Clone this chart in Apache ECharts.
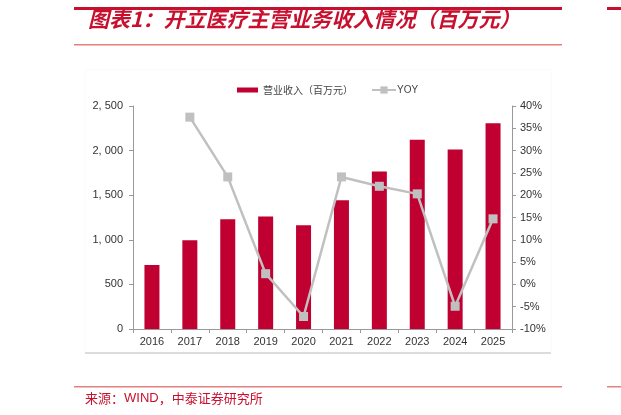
<!DOCTYPE html>
<html>
<head>
<meta charset="utf-8">
<script src="https://cdn.jsdelivr.net/npm/echarts@6/dist/echarts.min.js"></script>
<style>
  html, body { margin: 0; padding: 0; background: #fff; }
  #chart { width: 621px; height: 415px; }
</style>
</head>
<body>
<div id="chart"></div>
<script>
// data
const years = ['2016', '2017', '2018', '2019', '2020', '2021', '2022', '2023', '2024', '2025'];
const revenue = [718, 995, 1230, 1262, 1163, 1443, 1766, 2123, 2012, 2307];
const yoy = [null, 37.5, 24.1, 2.4, -7.2, 24.1, 22.0, 20.3, -4.9, 14.7];

const red = '#c00030';
const grey = '#c0c0c0';
const cjk = '"Noto Sans CJK SC", sans-serif';
const latin = 'Arial, "Liberation Sans", sans-serif';

const chart = echarts.init(document.getElementById('chart'));

chart.setOption({
    animation: false,
    backgroundColor: '#fff',
    // two legends so each icon gets its own size
    legend: [{
        top: 80,
        left: 232,
        itemWidth: 21,
        itemHeight: 5,
        textStyle: { fontFamily: cjk, fontSize: 10, color: '#444' },
        data: [{ name: '营业收入（百万元）', icon: 'rect' }]
    }, {
        top: 80,
        left: 366,
        itemWidth: 24,
        itemHeight: 9,
        itemGap: 2,
        textStyle: { fontFamily: latin, fontSize: 10, color: '#444', padding: [0, 0, 0, -4] },
        data: ['YOY']
    }],
    grid: { left: 133, right: 109, top: 106, bottom: 86 },
    xAxis: {
        type: 'category',
        data: years,
        axisLine: { lineStyle: { color: '#999' } },
        axisTick: { show: true, length: 4, lineStyle: { color: '#999' } },
        axisLabel: { color: '#333', fontSize: 11, fontFamily: latin, margin: 7 }
    },
    yAxis: [{
        type: 'value',
        min: 0, max: 2500, interval: 500,
        splitLine: { show: false },
        axisLine: { show: true, lineStyle: { color: '#999' } },
        axisTick: { show: true, length: 4, lineStyle: { color: '#999' } },
        axisLabel: {
            color: '#333', fontSize: 11, fontFamily: latin, margin: 10,
            formatter: v => v.toLocaleString('en').replace(',', ', ')
        }
    }, {
        type: 'value',
        min: -10, max: 40, interval: 5,
        splitLine: { show: false },
        axisLine: { show: true, lineStyle: { color: '#999' } },
        axisTick: { show: true, length: 4, lineStyle: { color: '#999' } },
        axisLabel: { color: '#333', fontSize: 11, fontFamily: latin, margin: 8, formatter: v => v + '%' }
    }],
    series: [{
        name: '营业收入（百万元）',
        type: 'bar',
        data: revenue,
        barWidth: 15,
        itemStyle: { color: red }
    }, {
        name: 'YOY',
        type: 'line',
        yAxisIndex: 1,
        data: yoy,
        symbol: 'rect',
        symbolSize: 9,
        lineStyle: { color: grey, width: 2.5 },
        itemStyle: { color: grey }
    }],
    graphic: [
        // page decoration: header and footer rules
        { type: 'rect', shape: { x: 74, y: 7, width: 488, height: 3 }, style: { fill: '#c8102e' } },
        { type: 'rect', shape: { x: 607, y: 7, width: 14, height: 3 }, style: { fill: '#c8102e' } },
        { type: 'text', left: 88, top: 9, style: { text: '图表1：开立医疗主营业务收入情况（百万元）', fill: '#c8102e', font: 'italic bold 21px ' + cjk } },
        { type: 'rect', shape: { x: 74, y: 44, width: 488, height: 1.5 }, style: { fill: '#e58080' } },
        { type: 'rect', shape: { x: 85, y: 70, width: 466, height: 283 }, style: { fill: 'none', stroke: '#fafafa', lineWidth: 1 } },
        { type: 'line', shape: { x1: 85, y1: 353, x2: 551, y2: 353 }, style: { stroke: '#bbb', lineWidth: 1.2 } },
        { type: 'rect', shape: { x: 74, y: 386, width: 488, height: 1.5 }, style: { fill: '#e58080' } },
        { type: 'rect', shape: { x: 607, y: 386, width: 14, height: 1.5 }, style: { fill: '#e58080' } },
        {
            type: 'text', left: 85, top: 392,
            style: {
                text: '来源：{l|WIND}，中泰证券研究所',
                fill: '#c8102e', font: '13px ' + cjk,
                rich: { l: { fontFamily: latin, fontSize: 13, fill: '#c8102e' } }
            }
        }
    ]
});
</script>
</body>
</html>
